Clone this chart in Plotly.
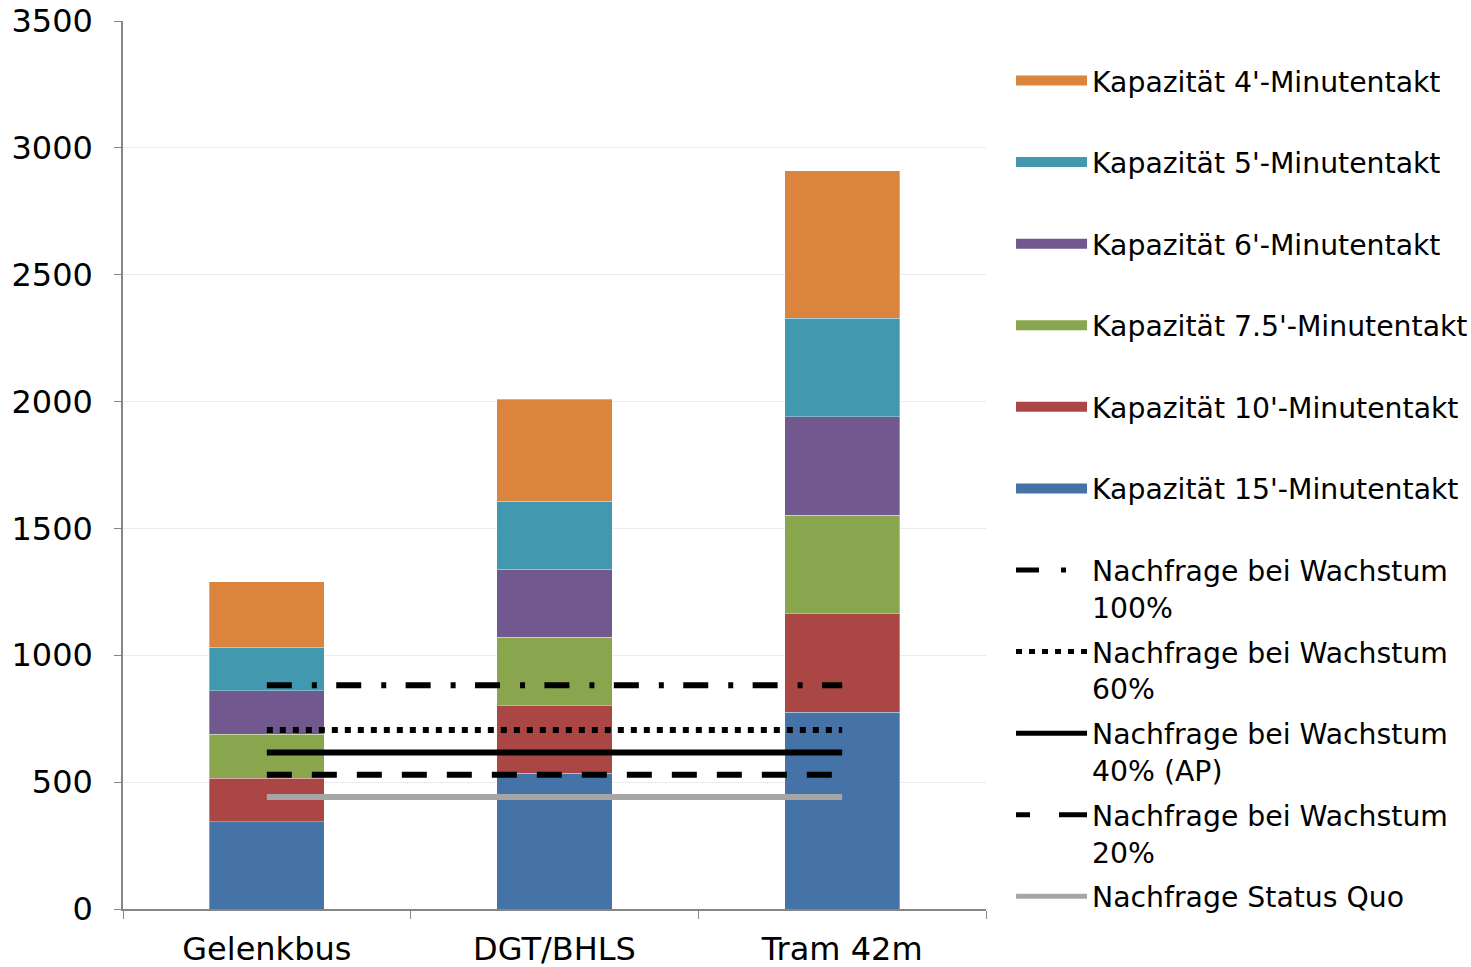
import numpy as np
import plotly.graph_objects as go

# Vehicle types on the x axis
categories = ["Gelenkbus", "DGT/BHLS", "Tram 42m"]

# Capacity (passengers per hour) for each headway, cumulative per vehicle type
headways = ["15'", "10'", "7.5'", "6'", "5'", "4'"]
cap_15 = [344, 536, 776]
cap_10 = [516, 804, 1164]
cap_7_5 = [688, 1072, 1552]
cap_6 = [860, 1340, 1940]
cap_5 = [1032, 1608, 2328]
cap_4 = [1290, 2010, 2910]

# Demand levels (passengers per hour), identical across vehicle types
demand_sq = [441, 441, 441]
demand_20 = [529, 529, 529]
demand_40 = [617, 617, 617]
demand_60 = [706, 706, 706]
demand_100 = [882, 882, 882]

bar_colors = ["#4572A7", "#AA4643", "#89A54E", "#71588F", "#4198AF", "#DB843D"]
FONT = "DejaVu Sans"

capacity = np.array([cap_15, cap_10, cap_7_5, cap_6, cap_5, cap_4])
# Each stacked segment is the extra capacity gained by the shorter headway
increments = np.vstack([capacity[0], np.diff(capacity, axis=0)])

fig = go.Figure()

for i, hw in enumerate(headways):
    fig.add_trace(go.Bar(
        x=categories, y=increments[i],
        name=f"Kapazität {hw}-Minutentakt",
        marker=dict(color=bar_colors[i], line=dict(color="rgba(255,255,255,0.4)", width=0.8)),
        showlegend=False,
        hoverinfo="skip",
    ))

# Demand lines: (legend text, values, colour, dash in plot, dash in legend key)
lines = [
    ("Nachfrage Status Quo", demand_sq, "#A6A6A6", "solid", "solid"),
    ("Nachfrage bei Wachstum<br>20%", demand_20, "#000000", "25px,20px", "14px,29px,30px"),
    ("Nachfrage bei Wachstum<br>40% (AP)", demand_40, "#000000", "solid", "solid"),
    ("Nachfrage bei Wachstum<br>60%", demand_60, "#000000", "6px,7px", "6px,7px"),
    ("Nachfrage bei Wachstum<br>100%", demand_100, "#000000", "25px,20px,5px,19.4px", "23px,22px,5px,40px"),
]
for name, vals, col, dash, _ in lines:
    fig.add_trace(go.Scatter(
        x=categories, y=vals, mode="lines", name=name,
        line=dict(color=col, width=6, dash=dash),
        showlegend=False, hoverinfo="skip",
    ))

# Legend entries (capacity swatches first, highest headway at top)
legend_items = []
for i in reversed(range(len(headways))):
    legend_items.append((f"Kapazität {headways[i]}-Minutentakt<br> ", bar_colors[i], 14, "solid"))
for name, vals, col, _, key_dash in reversed(lines):
    legend_items.append((name, col, 5, key_dash))

for k, (name, col, w, dash) in enumerate(legend_items):
    fig.add_trace(go.Scatter(
        x=[None], y=[None], mode="lines", name=name,
        line=dict(color=col, width=w, dash=dash),
        legendgroup=f"g{k}", legendrank=k + 1,
        hoverinfo="skip",
    ))

fig.update_layout(
    width=1471, height=967,
    barmode="stack", bargap=0.6,
    plot_bgcolor="white", paper_bgcolor="white",
    margin=dict(l=123, r=485, t=21, b=58, autoexpand=False),
    font=dict(family=FONT, color="#000000"),
    legend=dict(
        x=1.029, xanchor="left", y=0.961, yanchor="top",
        font=dict(size=28.3, family=FONT),
        itemwidth=71, valign="top",
        traceorder="grouped", tracegroupgap=5,
        bgcolor="rgba(0,0,0,0)",
        maxheight=1000,
    ),
)

fig.update_yaxes(
    range=[0, 3500], dtick=500,
    showgrid=True, gridcolor="#EBEBEB", gridwidth=1,
    showline=True, linecolor="#868686", linewidth=1.5,
    ticks="outside", ticklen=7, tickcolor="#868686",
    tickfont=dict(size=32, family=FONT),
    ticklabelstandoff=15,
    zeroline=False,
)
fig.update_xaxes(
    showline=True, linecolor="#868686", linewidth=1.5,
    ticks="outside", ticklen=8, tickcolor="#868686",
    tickson="boundaries",
    tickfont=dict(size=32, family=FONT),
    ticklabelstandoff=11,
)

fig.write_html("out.html")
